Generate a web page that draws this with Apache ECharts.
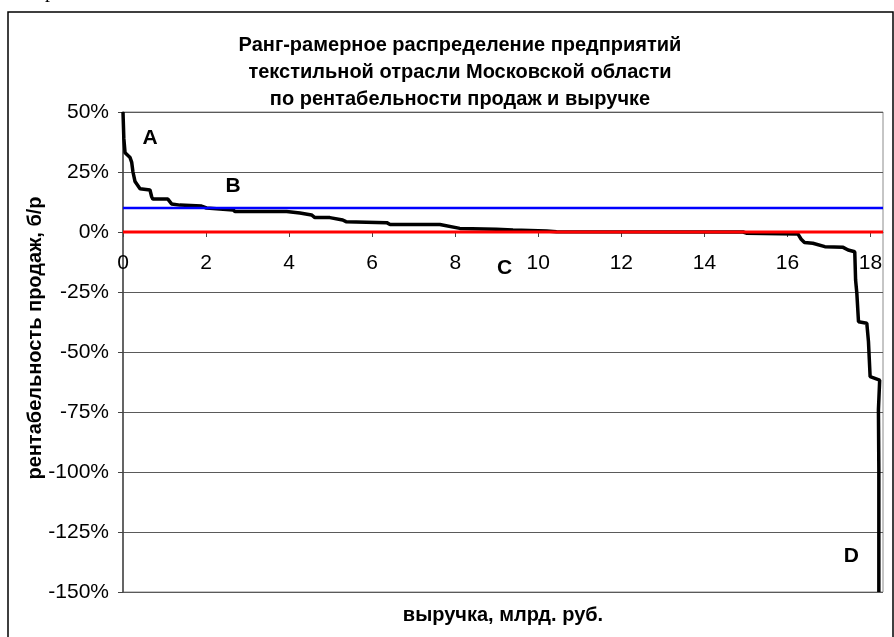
<!DOCTYPE html>
<html>
<head>
<meta charset="utf-8">
<style>
  html, body { margin: 0; padding: 0; background: #fff; }
  #chart { width: 894px; height: 637px; }
</style>
<script src="https://cdn.jsdelivr.net/npm/echarts@6/dist/echarts.min.js"></script>
</head>
<body>
<div id="chart"></div>
<script>
// Rank-size curve: cumulative revenue (bn rub) vs. sales margin (%)
const revenue = [0, 0.02, 0.05, 0.17, 0.21, 0.24, 0.29, 0.41, 0.65, 0.69, 0.72, 1.08, 1.17, 1.37,
  1.89, 2.01, 2.65, 2.70, 3.94, 4.26, 4.54, 4.62, 4.98, 5.29, 5.37, 6.35, 6.43, 7.63, 8.11, 8.99,
  9.39, 10.2, 10.44, 14.93, 15.01, 16.25, 16.33, 16.41, 16.61, 16.9, 17.34, 17.46, 17.62, 17.64,
  17.67, 17.71, 17.91, 17.95, 17.99, 17.99, 18.22, 18.19, 18.2, 18.2];
const margin = [50, 39, 33, 31, 29, 25, 21, 18, 17.5, 14.7, 13.7, 13.7, 11.7, 11.2,
  10.8, 10, 9.2, 8.5, 8.5, 7.9, 7.1, 6, 6, 5, 4.3, 3.9, 3.1, 3.1, 1.5, 1.1,
  0.8, 0.4, 0.1, 0, -0.5, -0.8, -3, -4.4, -4.7, -6.1, -6.4, -7.5, -8.2, -20,
  -25.5, -37.4, -38, -45.7, -46.4, -60.3, -61.7, -74, -99, -150];

// reference levels
const targetLevel = 10;   // blue line
const zeroLevel = 0;      // red line
const xMin = 0, xMax = 18.3;
const yMin = -150, yMax = 50;

// point letters
const letterNames = ["A", "B", "C", "D"];
const letterX = [0.65, 2.65, 9.19, 17.54];
const letterY = [39, 19, -15, -135];

const titleText = "Ранг-рамерное распределение предприятий\nтекстильной отрасли Московской области\nпо рентабельности продаж и выручке";
const yName = "рентабельность продаж, б/р";
const xName = "выручка, млрд. руб.";

const FONT = "'Liberation Sans', Arial, sans-serif";

const gridTop = 112, gridBottom = 45;
const plotHeight = 637 - gridTop - gridBottom;
// lift the x axis (line, ticks, labels) up to the 0% level
const xAxisOffset = -((zeroLevel - yMin) / (yMax - yMin)) * plotHeight;

const chart = echarts.init(document.getElementById("chart"), null, { renderer: "canvas" });

const curve = revenue.map((x, i) => [x, margin[i]]);
const letters = letterNames.map((n, i) => [letterX[i], letterY[i], n]);

const option = {
  animation: false,
  backgroundColor: "#fff",
  textStyle: { fontFamily: FONT },
  title: {
    text: titleText,
    left: 455,
    textAlign: "center",
    top: 27,
    textStyle: {
      fontFamily: FONT,
      fontSize: 20,
      fontWeight: "bold",
      lineHeight: 27,
      color: "#000",
    },
  },
  grid: {
    left: 123,
    right: 11,
    top: gridTop,
    bottom: gridBottom,
    show: true,
    borderColor: "#8c8c8c",
    borderWidth: 1,
    containLabel: false,
    outerBoundsMode: "none",
  },
  xAxis: {
    type: "value",
    min: xMin,
    max: xMax,
    interval: 2,
    offset: xAxisOffset,
    axisLine: { onZero: false, lineStyle: { color: "#555", width: 1 } },
    axisTick: { show: true, length: 5, lineStyle: { color: "#444" } },
    axisLabel: {
      showMaxLabel: false,
      margin: 21,
      fontSize: 21,
      color: "#000",
      fontFamily: FONT,
    },
    splitLine: { show: false },
  },
  yAxis: {
    type: "value",
    min: yMin,
    max: yMax,
    interval: 25,
    axisLine: { show: true, onZero: false, lineStyle: { color: "#444", width: 1.5 } },
    axisTick: { show: true, length: 5, lineStyle: { color: "#444" } },
    axisLabel: {
      formatter: "{value}%",
      margin: 14,
      fontSize: 21,
      color: "#000",
      fontFamily: FONT,
    },
    splitLine: { show: true, lineStyle: { color: "#5a5a5a", width: 1 } },
  },
  series: [
    {
      name: "curve",
      type: "line",
      data: curve,
      symbol: "none",
      lineStyle: { color: "#000", width: 3.5 },
      z: 3,
    },
    {
      name: "target",
      type: "line",
      data: [[xMin, targetLevel], [xMax, targetLevel]],
      symbol: "none",
      lineStyle: { color: "#0000ff", width: 2.5 },
      z: 4,
    },
    {
      name: "zero",
      type: "line",
      data: [[xMin, zeroLevel], [xMax, zeroLevel]],
      symbol: "none",
      lineStyle: { color: "#ff0000", width: 3 },
      z: 5,
    },
    {
      name: "letters",
      type: "scatter",
      data: letters,
      symbolSize: 0,
      itemStyle: { opacity: 1 },
      label: {
        show: true,
        position: "inside",
        formatter: (p) => p.data[2],
        fontFamily: FONT,
        fontSize: 21,
        fontWeight: "bold",
        color: "#000",
        opacity: 1,
      },
      z: 6,
    },
  ],
  graphic: [
    {
      type: "rect",
      shape: { x: 8, y: 12, width: 885, height: 640 },
      style: { fill: null, stroke: "#000", lineWidth: 1.5 },
      silent: true,
    },
    {
      type: "text",
      x: 50,
      y: -8,
      style: {
        text: "р",
        font: "20px 'Liberation Serif', serif",
        fill: "#000",
        align: "center",
        verticalAlign: "middle",
      },
    },
    {
      type: "text",
      x: 35,
      y: 338,
      rotation: Math.PI / 2,
      style: {
        text: yName,
        font: "bold 20px " + FONT,
        fill: "#000",
        align: "center",
        verticalAlign: "middle",
      },
    },
    {
      type: "text",
      x: 503,
      y: 615,
      style: {
        text: xName,
        font: "bold 20px " + FONT,
        fill: "#000",
        align: "center",
        verticalAlign: "middle",
      },
    },
  ],
};

chart.setOption(option);

window.addEventListener("resize", () => {
  chart.resize();
});
</script>
</body>
</html>
